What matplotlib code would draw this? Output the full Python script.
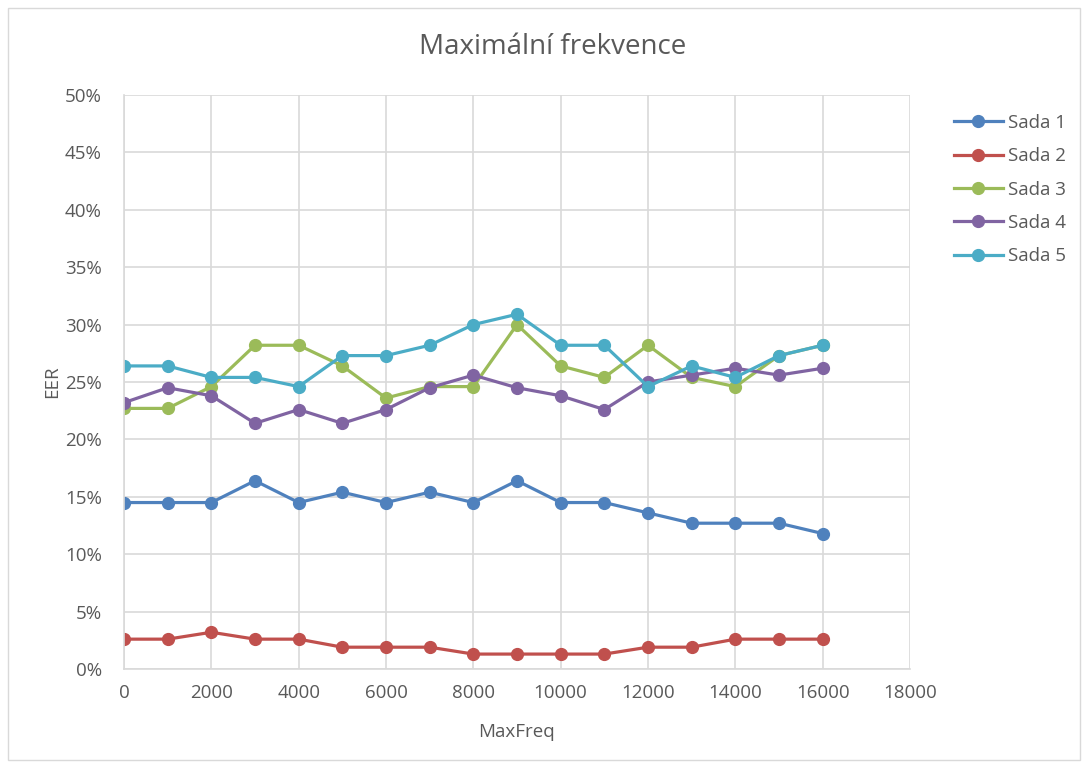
import matplotlib.pyplot as plt
from matplotlib.patches import Rectangle
from matplotlib.ticker import PercentFormatter

plt.rcParams['font.family'] = ['Open Sans', 'DejaVu Sans']

max_freq = [0, 1000, 2000, 3000, 4000, 5000, 6000, 7000, 8000, 9000,
            10000, 11000, 12000, 13000, 14000, 15000, 16000]

sada1 = [14.5, 14.5, 14.5, 16.4, 14.5, 15.4, 14.5, 15.4, 14.5, 16.4,
         14.5, 14.5, 13.6, 12.7, 12.7, 12.7, 11.8]
sada2 = [2.6, 2.6, 3.2, 2.6, 2.6, 1.9, 1.9, 1.9, 1.3, 1.3,
         1.3, 1.3, 1.9, 1.9, 2.6, 2.6, 2.6]
sada3 = [22.7, 22.7, 24.6, 28.2, 28.2, 26.4, 23.6, 24.6, 24.6, 30.0,
         26.4, 25.4, 28.2, 25.4, 24.6, 27.3, 28.2]
sada4 = [23.2, 24.5, 23.8, 21.4, 22.6, 21.4, 22.6, 24.5, 25.6, 24.5,
         23.8, 22.6, 25.0, 25.6, 26.2, 25.6, 26.2]
sada5 = [26.4, 26.4, 25.4, 25.4, 24.6, 27.3, 27.3, 28.2, 30.0, 30.9,
         28.2, 28.2, 24.6, 26.4, 25.4, 27.3, 28.2]

series = [("Sada 1", sada1, "#4F81BD"),
          ("Sada 2", sada2, "#C0504D"),
          ("Sada 3", sada3, "#9BBB59"),
          ("Sada 4", sada4, "#8064A2"),
          ("Sada 5", sada5, "#4BACC6")]

text_col = "#595959"
grid_col = "#D9D9D9"

fig = plt.figure(figsize=(10.89, 7.64), dpi=100)
ax = fig.add_axes([124 / 1089, 1 - 669 / 764, (910 - 124) / 1089, (669 - 95) / 764])

for name, vals, col in series:
    ax.plot(max_freq, vals, color=col, lw=2.3, marker="o", ms=8.5, label=name)

ax.set_xlim(0, 18000)
ax.set_ylim(0, 50)
ax.set_xticks(range(0, 18001, 2000))
ax.set_yticks(range(0, 51, 5))
ax.yaxis.set_major_formatter(PercentFormatter(decimals=0))
ax.grid(True, color=grid_col, lw=1.2)
ax.set_axisbelow(True)
for s in ["top", "right"]:
    ax.spines[s].set_visible(False)
for s in ["left", "bottom"]:
    ax.spines[s].set_color(grid_col)
    ax.spines[s].set_linewidth(1.2)
ax.tick_params(length=0, labelsize=13.5, colors=text_col)
ax.tick_params(axis="y", pad=16)
ax.tick_params(axis="x", pad=11)

fig.text(517 / 1089, 1 - 732 / 764, "MaxFreq", fontsize=13.5, color=text_col,
         ha="center", va="center")
fig.text(52 / 1089, 1 - 382 / 764, "EER", fontsize=13.5, color=text_col,
         ha="center", va="center", rotation=90)
fig.text(553 / 1089, 1 - 47 / 764, "Maximální frekvence", fontsize=20,
         color=text_col, ha="center", va="center")

fig.legend(loc="upper left", bbox_to_anchor=(937 / 1089, 1 - 97 / 764),
           frameon=False, fontsize=13.5, labelcolor=text_col,
           handlelength=2.6, labelspacing=0.82, handletextpad=0.3)

fig.patches.append(Rectangle((8 / 1089, 4 / 764), 1072 / 1089, 752 / 764,
                             transform=fig.transFigure, fill=False,
                             edgecolor="#D9D9D9", lw=1))

fig.savefig("out.png", dpi=100)
